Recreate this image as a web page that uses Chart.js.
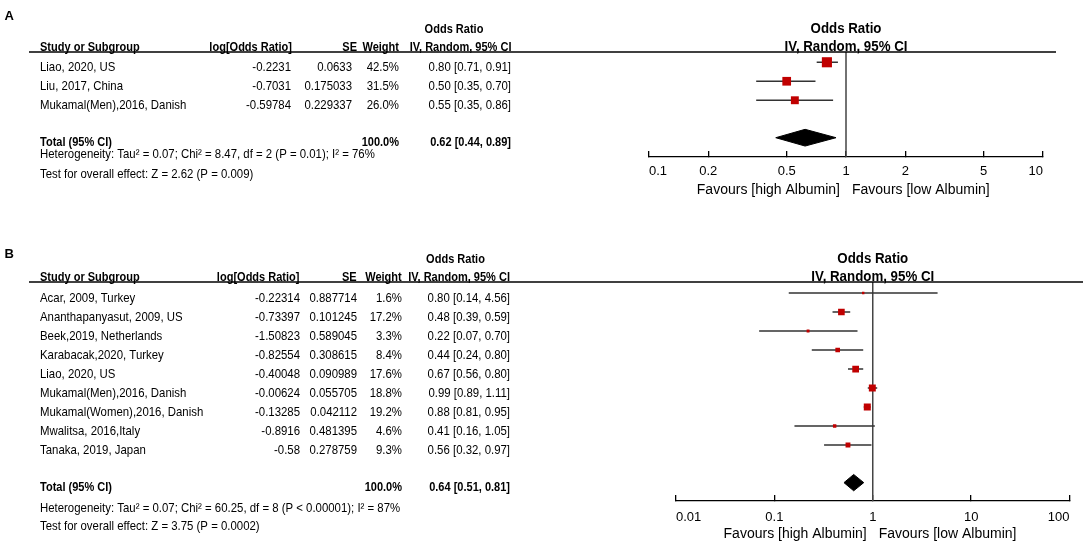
<!DOCTYPE html>
<html>
<head>
<meta charset="utf-8">
<script src="https://cdn.jsdelivr.net/npm/chart.js@4/dist/chart.umd.min.js"></script>
<style>
html,body{margin:0;padding:0;background:#fff;}
canvas{display:block;}
</style>
</head>
<body>
<canvas id="cA" width="1084" height="210"></canvas>
<canvas id="cB" width="1084" height="333"></canvas>
<script>
// ---------- Panel A data ----------
const studiesA = ["Liao, 2020, US", "Liu, 2017, China", "Mukamal(Men),2016, Danish"];
const logOrA = [-0.2231, -0.7031, -0.59784];
const seA = [0.0633, 0.175033, 0.229337];
const weightA = [42.5, 31.5, 26.0];
const orA = [0.80, 0.50, 0.55];
const lowA = [0.71, 0.35, 0.35];
const highA = [0.91, 0.70, 0.86];
const totalA = [0.62, 0.44, 0.89];
const hetA = "Heterogeneity: Tau\u00B2 = 0.07; Chi\u00B2 = 8.47, df = 2 (P = 0.01); I\u00B2 = 76%";
const testA = "Test for overall effect: Z = 2.62 (P = 0.009)";
const tickValsA = [0.1, 0.2, 0.5, 1, 2, 5, 10];
const tickLabelsA = ["0.1", "0.2", "0.5", "1", "2", "5", "10"];

// ---------- Panel B data ----------
const studiesB = ["Acar, 2009, Turkey", "Ananthapanyasut, 2009, US", "Beek,2019, Netherlands",
  "Karabacak,2020, Turkey", "Liao, 2020, US", "Mukamal(Men),2016, Danish",
  "Mukamal(Women),2016, Danish", "Mwalitsa, 2016,Italy", "Tanaka, 2019, Japan"];
const logOrB = [-0.22314, -0.73397, -1.50823, -0.82554, -0.40048, -0.00624, -0.13285, -0.8916, -0.58];
const seB = [0.887714, 0.101245, 0.589045, 0.308615, 0.090989, 0.055705, 0.042112, 0.481395, 0.278759];
const weightB = [1.6, 17.2, 3.3, 8.4, 17.6, 18.8, 19.2, 4.6, 9.3];
const orB = [0.80, 0.48, 0.22, 0.44, 0.67, 0.99, 0.88, 0.41, 0.56];
const lowB = [0.14, 0.39, 0.07, 0.24, 0.56, 0.89, 0.81, 0.16, 0.32];
const highB = [4.56, 0.59, 0.70, 0.80, 0.80, 1.11, 0.95, 1.05, 0.97];
const totalB = [0.64, 0.51, 0.81];
const hetB = "Heterogeneity: Tau\u00B2 = 0.07; Chi\u00B2 = 60.25, df = 8 (P < 0.00001); I\u00B2 = 87%";
const testB = "Test for overall effect: Z = 3.75 (P = 0.0002)";
const tickValsB = [0.01, 0.1, 1, 10, 100];
const tickLabelsB = ["0.01", "0.1", "1", "10", "100"];

// ---------- shared labels ----------
const columns = ["Study or Subgroup", "log[Odds Ratio]", "SE", "Weight", "IV, Random, 95% CI"];
const effectHeader = ["Odds Ratio", "IV, Random, 95% CI"];
const favours = ["Favours [high Albumin]", "Favours [low Albumin]"];
const totalLabel = "Total (95% CI)";

const FONT = '"Liberation Sans", Arial, sans-serif';

function txt(ctx, s, x, y, align, font, sx) {
  ctx.save();
  ctx.font = font + ' ' + FONT;
  ctx.fillStyle = '#000';
  ctx.textAlign = align;
  ctx.textBaseline = 'alphabetic';
  ctx.translate(x, y);
  ctx.scale(sx, 1);
  ctx.fillText(s, 0, 0);
  ctx.restore();
}
const REG = '12.6px', BOLD = 'bold 12.6px';
const SR = 0.905, SB = 0.875;

function fmtCI(o, l, h) { return o.toFixed(2) + ' [' + l.toFixed(2) + ', ' + h.toFixed(2) + ']'; }

function tablePlugin(d, L) {
  return {
    id: 'table' + L.letter,
    afterDraw(chart) {
      const ctx = chart.ctx, xs = chart.scales.x, ys = chart.scales.y;
      const top = chart.chartArea.top, bottom = chart.chartArea.bottom;
      const x1 = xs.getPixelForValue(1);
      // panel letter
      txt(ctx, L.letter, 4.5, L.letterY, 'left', 'bold 13px', 1);
      // header underline
      ctx.save();
      ctx.strokeStyle = '#000'; ctx.lineWidth = 1.5;
      ctx.beginPath(); ctx.moveTo(29, top); ctx.lineTo(L.lineEnd, top); ctx.stroke();
      ctx.restore();
      const hb = top - 1.5, ob = top - 19.5;
      const C = L.cols, H = L.hdr;
      txt(ctx, effectHeader[0], H.or, ob, 'center', BOLD, SB);
      txt(ctx, columns[0], C.name, hb, 'left', BOLD, SB);
      txt(ctx, columns[1], H.log, hb, 'right', BOLD, SB);
      txt(ctx, columns[2], H.se, hb, 'right', BOLD, SB);
      txt(ctx, columns[3], H.weight, hb, 'right', BOLD, SB);
      txt(ctx, columns[4], H.iv, hb, 'right', BOLD, SB);
      // plot headers
      txt(ctx, effectHeader[0], x1, ob, 'center', 'bold 14px', 0.95);
      txt(ctx, effectHeader[1], x1, hb, 'center', 'bold 14px', 0.95);
      // study rows
      d.studies.forEach((s, i) => {
        const y = ys.getPixelForValue(i + L.rowOff) + 8.6;
        txt(ctx, s, C.name, y, 'left', REG, SR);
        txt(ctx, String(d.logOr[i]), C.log, y, 'right', REG, SR);
        txt(ctx, String(d.se[i]), C.se, y, 'right', REG, SR);
        txt(ctx, d.weight[i].toFixed(1) + '%', C.weight, y, 'right', REG, SR);
        txt(ctx, fmtCI(d.or[i], d.low[i], d.high[i]), C.iv, y, 'right', REG, SR);
      });
      // total
      const yt = ys.getPixelForValue(L.diamondY) + 8.6;
      const wsum = d.weight.reduce((a, b) => a + b, 0);
      txt(ctx, totalLabel, C.name, yt, 'left', BOLD, SB);
      txt(ctx, wsum.toFixed(1) + '%', C.weight, yt, 'right', BOLD, SB);
      txt(ctx, fmtCI(d.total[0], d.total[1], d.total[2]), C.iv, yt, 'right', BOLD, SB);
      txt(ctx, d.het, C.name, ys.getPixelForValue(L.hetY) + 8.6, 'left', REG, SR);
      txt(ctx, d.test, C.name, ys.getPixelForValue(L.testY) + 8.6, 'left', REG, SR);
      // favours
      txt(ctx, favours[0], x1 - 6, bottom + 37, 'right', '14px', 1);
      txt(ctx, favours[1], x1 + 6, bottom + 37, 'left', '14px', 1);
    }
  };
}

function makeChart(id, d, L) {
  const rows = d.studies.map((_, i) => i + L.rowOff);
  const squares = {
    data: d.or.map((v, i) => ({ x: v, y: rows[i] })),
    pointStyle: 'rect',
    pointRadius: d.weight.map(w => Math.max(2.4, L.box * Math.sqrt(w)) / Math.SQRT2),
    backgroundColor: '#c00000', borderColor: '#c00000', borderWidth: 0,
    showLine: false
  };
  const ci = [];
  d.low.forEach((lo, i) => { ci.push({ x: lo, y: rows[i] }, { x: d.high[i], y: rows[i] }, { x: d.high[i], y: null }); });
  const ciSet = { data: ci, showLine: true, spanGaps: false, borderColor: '#333', borderWidth: 1.7, pointRadius: 0 };
  const t = d.total, yd = L.diamondY, h = L.dh;
  const diamond = {
    data: [{ x: t[1], y: yd }, { x: t[0], y: yd - h }, { x: t[2], y: yd }, { x: t[0], y: yd + h }, { x: t[1], y: yd }],
    showLine: true, fill: 'shape', backgroundColor: '#000', borderColor: '#000', borderWidth: 1, pointRadius: 0, tension: 0
  };
  const vline = {
    data: [{ x: 1, y: 0 }, { x: 1, y: L.yMax }],
    showLine: true, borderColor: '#444', borderWidth: 1.5, pointRadius: 0, clip: false
  };
  return new Chart(document.getElementById(id), {
    type: 'scatter',
    data: { datasets: [squares, diamond, ciSet, vline] },
    options: {
      responsive: false, animation: false, events: [],
      layout: { padding: L.pad },
      plugins: { legend: { display: false }, tooltip: { enabled: false } },
      scales: {
        x: {
          type: 'logarithmic', position: 'bottom',
          min: d.ticks[0], max: d.ticks[d.ticks.length - 1],
          afterBuildTicks: s => { s.ticks = d.ticks.map(v => ({ value: v })); },
          afterFit: s => { s.height = 20; },
          ticks: {
            autoSkip: false, maxRotation: 0, minRotation: 0, align: 'inner', padding: L.tickPad,
            color: '#000', font: { family: FONT, size: 13 },
            callback: (v, i) => d.tickLabels[i]
          },
          grid: { drawOnChartArea: false, drawTicks: true, tickLength: -6, color: '#000', lineWidth: 1.3 },
          border: { display: true, color: '#000', width: 1.3 }
        },
        y: { type: 'linear', min: 0, max: L.yMax, reverse: true, display: false }
      }
    },
    plugins: [tablePlugin(d, L)]
  });
}

makeChart('cA', {
  studies: studiesA, logOr: logOrA, se: seA, weight: weightA, or: orA, low: lowA, high: highA,
  total: totalA, het: hetA, test: testA, ticks: tickValsA, tickLabels: tickLabelsA
}, {
  letter: 'A', letterY: 20, pad: { left: 649, right: 41, top: 52, bottom: 33 },
  yMax: 105 / 19, rowOff: 0.54, diamondY: 4.51, dh: 0.44, hetY: 5.15, testY: 6.17, box: 1.55,
  lineEnd: 1056, tickPad: 13,
  cols: { name: 40, log: 291, se: 352, weight: 399, iv: 511 },
  hdr: { log: 292, se: 357, weight: 399, iv: 511.5, or: 454 }
});

makeChart('cB', {
  studies: studiesB, logOr: logOrB, se: seB, weight: weightB, or: orB, low: lowB, high: highB,
  total: totalB, het: hetB, test: testB, ticks: tickValsB, tickLabels: tickLabelsB
}, {
  letter: 'B', letterY: 48.3, pad: { left: 676, right: 13, top: 72, bottom: 22 },
  yMax: 219 / 19, rowOff: 0.58, diamondY: 10.56, dh: 0.43, hetY: 11.63, testY: 12.59, box: 1.6,
  lineEnd: 1083, tickPad: 14.5,
  cols: { name: 40, log: 300, se: 357, weight: 402, iv: 510 },
  hdr: { log: 299.5, se: 356.7, weight: 401.7, iv: 510, or: 455.5 }
});
</script>
</body>
</html>
